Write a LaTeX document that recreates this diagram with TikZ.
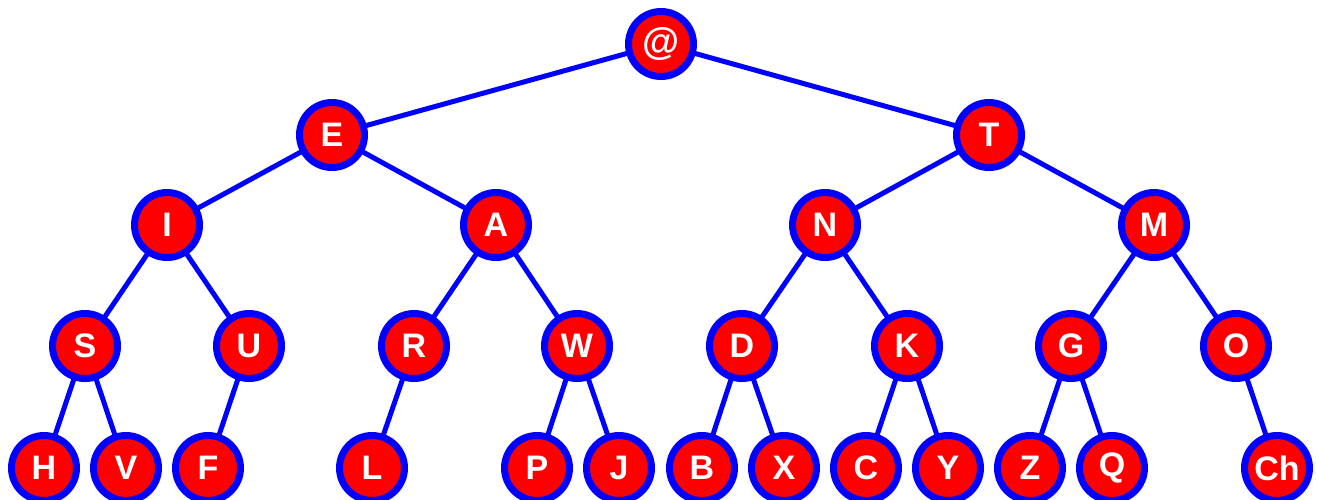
\documentclass[tikz,border=0pt]{standalone}
\usepackage{fontspec}
\setmainfont{Liberation Sans}
\usetikzlibrary{backgrounds}
\definecolor{nodered}{RGB}{255,0,0}
\definecolor{edgeblue}{RGB}{0,0,255}
\begin{document}
\begin{tikzpicture}[x=1pt,y=-1pt,
  letter/.style={circle,draw=edgeblue,fill=nodered,line width=7pt,minimum size=65pt,inner sep=0pt,
    text=white,font=\fontsize{34}{34}\selectfont\bfseries},
  link/.style={draw=edgeblue,line width=5pt}]
\useasboundingbox (0,0) rectangle (1317,499);
\node[letter,font=\fontsize{38}{38}\selectfont\bfseries] (at) at (661,44) {@};
\node[letter] (E) at (332,135) {E};
\node[letter] (T) at (989,135) {T};
\node[letter] (I) at (167,225) {I};
\node[letter] (A) at (496,225) {A};
\node[letter] (N) at (825,225) {N};
\node[letter] (M) at (1154,225) {M};
\node[letter] (S) at (85,346) {S};
\node[letter] (U) at (249,346) {U};
\node[letter] (R) at (414,346) {R};
\node[letter] (W) at (577,346) {W};
\node[letter] (D) at (742,346) {D};
\node[letter] (K) at (907,346) {K};
\node[letter] (G) at (1071,346) {G};
\node[letter] (O) at (1236,346) {O};
\node[letter] (H) at (44,468) {H};
\node[letter] (V) at (126,468) {V};
\node[letter] (F) at (208,468) {F};
\node[letter] (L) at (372,468) {L};
\node[letter] (P) at (537,468) {P};
\node[letter] (J) at (619,468) {J};
\node[letter] (B) at (702,468) {B};
\node[letter] (X) at (784,468) {X};
\node[letter] (C) at (866,468) {C};
\node[letter] (Y) at (948,468) {Y};
\node[letter] (Z) at (1030,468) {Z};
\node[letter] (Q) at (1112,468) {Q};
\node[letter] (Ch) at (1277,468) {Ch};
\begin{scope}[on background layer]
\foreach \a/\b in {at/E,at/T,E/I,E/A,T/N,T/M,I/S,I/U,A/R,A/W,N/D,N/K,M/G,M/O,
  S/H,S/V,U/F,R/L,W/P,W/J,D/B,D/X,K/C,K/Y,G/Z,G/Q,O/Ch}
  \draw[link] (\a.center) -- (\b.center);
\end{scope}
\end{tikzpicture}
\end{document}
